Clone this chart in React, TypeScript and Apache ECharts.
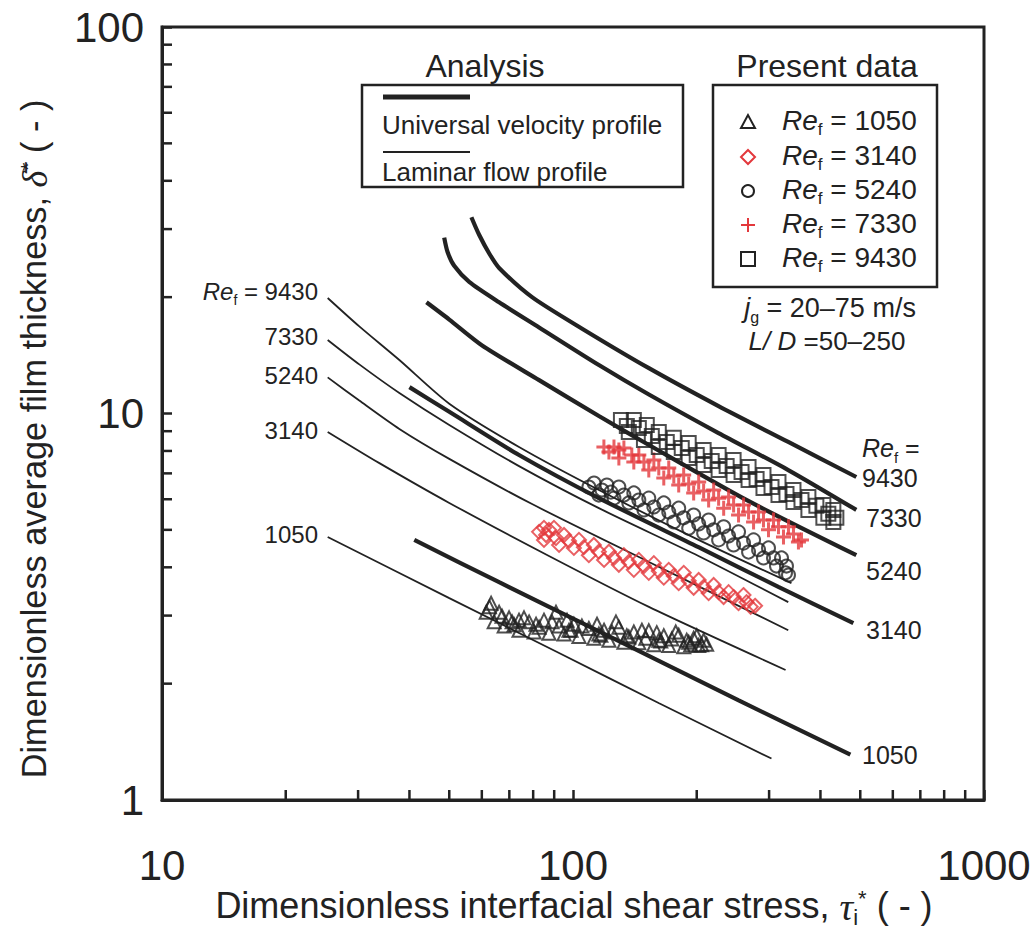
import React, { useEffect, useRef } from 'react';
import * as echarts from 'echarts';

const INK = '#222222';
const RED = '#e3383c';
const SANS = "'Liberation Sans', Arial, Helvetica, sans-serif";
const SERIF = "'Liberation Serif', 'DejaVu Serif', serif";

// axis ranges and minor ticks
const X_RANGE = [10, 1000];
const Y_RANGE = [1, 100];
const X_MINOR_TICKS = [20, 30, 40, 50, 60, 70, 80, 90, 200, 300, 400, 500, 600, 700, 800, 900];
const Y_MINOR_TICKS = [2, 3, 4, 5, 6, 7, 8, 9, 20, 30, 40, 50, 60, 70, 80, 90];

// Re_f values
const RE_VALUES = ['1050', '3140', '5240', '7330', '9430'];

// Analysis: universal velocity profile (thick lines)  [tau_i*, delta*]
const universal9430 = [[56.6, 32.2], [59.1, 29.0], [62.6, 25.9], [66.1, 23.8], [79.5, 20.0], [105, 16.6], [153, 13.1], [226, 10.45], [334, 8.44], [489, 6.85]];
const universal7330 = [[48.6, 28.5], [49.5, 26.2], [51.4, 24.1], [55.9, 21.9], [66.1, 19.4], [82.7, 16.7], [115.6, 13.35], [153, 11.2], [226, 8.9], [334, 7.14], [489, 5.63]];
const universal5240 = [[44.0, 19.4], [50, 17.5], [60.1, 15.0], [82.7, 12.2], [115.6, 9.85], [153, 8.29], [267, 5.94], [489, 4.3]];
const universal3140 = [[40, 11.7], [50, 10.1], [73.9, 7.81], [115.6, 6.04], [202, 4.51], [316, 3.56], [481, 2.87]];
const universal1050 = [[41.1, 4.71], [66.1, 3.66], [129, 2.58], [253, 1.81], [473, 1.31]];

// Analysis: laminar flow profile (thin lines)
const laminar9430 = [[25.3, 19.9], [30.2, 16.8], [37.8, 13.75], [50, 10.6], [73.9, 8.19], [115.6, 6.34], [202, 4.71], [340, 3.64]];
const laminar7330 = [[25.3, 15.5], [30.2, 13.4], [37.8, 11.3], [50, 9.34], [73.9, 7.31], [115.6, 5.69], [202, 4.28], [334, 3.25]];
const laminar5240 = [[25.3, 12.4], [30.2, 10.8], [37.8, 9.12], [50, 7.63], [79.5, 5.83], [153, 4.13], [334, 2.75]];
const laminar3140 = [[25.3, 8.96], [33.8, 7.44], [50, 5.87], [87.4, 4.28], [153, 3.16], [329, 2.17]];
const laminar1050 = [[25.3, 4.79], [50, 3.33], [92.5, 2.4], [162, 1.78], [304, 1.28]];

// Present data
const data1050 = [
  [62.6, 3.16], [66.1, 3.06], [69.9, 2.96], [73.9, 2.92], [78.2, 2.89], [85.0, 2.92], [92.5, 2.82], [100.5, 2.85], [109.3, 2.78], [119.0, 2.75], [129.3, 2.8], [140.6, 2.72], [152.9, 2.74], [166.3, 2.66], [180.8, 2.67], [196.6, 2.62], [207.9, 2.59],
  [64.3, 2.89], [68.0, 2.82], [73.9, 2.75], [80.4, 2.72], [87.4, 2.7], [95.1, 2.69], [103.4, 2.65], [112.4, 2.62], [122.3, 2.59], [133.0, 2.56], [144.6, 2.55], [157.3, 2.52], [171.0, 2.51], [186.0, 2.49], [202.2, 2.51],
  [71.9, 2.84], [82.7, 2.8], [97.8, 2.75], [115.6, 2.69], [136.7, 2.64], [161.7, 2.59], [191.2, 2.56],
  [61.5, 3.06], [63.2, 3.23], [67.2, 2.99], [71.1, 2.89], [76.0, 2.96], [81.3, 2.85], [88.9, 2.89], [90.9, 3.06], [96.7, 2.92], [98.9, 2.75], [105.1, 2.82], [114.4, 2.85], [116.9, 2.67], [124.4, 2.72], [127.2, 2.89], [135.2, 2.66], [147.1, 2.75], [150.4, 2.62], [159.9, 2.71], [163.5, 2.58], [173.9, 2.61], [177.8, 2.72], [189.1, 2.59], [193.4, 2.52], [200.0, 2.66], [205.6, 2.52], [211.4, 2.53],
];
const data3140 = [
  [82.7, 4.94], [87.4, 5.0], [95.1, 4.85], [103.4, 4.71], [112.4, 4.57], [122.3, 4.39], [133.0, 4.3], [144.6, 4.18], [157.3, 4.1], [171.0, 3.94], [186.0, 3.87], [202.2, 3.71], [219.9, 3.6], [239.1, 3.45], [259.9, 3.39],
  [85.0, 4.71], [92.5, 4.57], [100.5, 4.49], [109.3, 4.3], [119.0, 4.18], [129.3, 4.06], [140.6, 3.94], [152.9, 3.87], [166.3, 3.76], [180.8, 3.64], [196.6, 3.54], [213.8, 3.43], [232.5, 3.35], [252.8, 3.23], [270.6, 3.16],
  [86.0, 4.85], [90.9, 4.76], [97.8, 4.68], [106.3, 4.51], [115.6, 4.39], [125.8, 4.23], [136.7, 4.13], [148.8, 4.03], [161.7, 3.91], [175.9, 3.8], [191.2, 3.69], [207.9, 3.56], [226.1, 3.45], [245.9, 3.35], [264.4, 3.25], [277.3, 3.18], [85.0, 5.06], [89.9, 5.06],
];
const data5240 = [
  [112.5, 6.61], [120.9, 6.53], [129.3, 6.45], [140.6, 6.23], [152.9, 6.04], [166.3, 5.87], [180.8, 5.69], [196.6, 5.46], [213.8, 5.3], [232.6, 5.09], [252.8, 4.94], [275.0, 4.71], [299.0, 4.49], [321.6, 4.23],
  [115.6, 6.15], [125.8, 6.04], [136.7, 5.87], [148.8, 5.63], [161.7, 5.46], [175.9, 5.24], [191.2, 5.05], [207.9, 4.91], [226.1, 4.71], [245.9, 4.57], [267.4, 4.38], [290.7, 4.23], [312.7, 4.03], [328.9, 3.87],
  [109.3, 6.45], [117.6, 6.34], [123.7, 6.26], [133.0, 6.15], [144.6, 5.97], [157.3, 5.73], [171.0, 5.56], [185.9, 5.37], [202.2, 5.18], [219.9, 5.0], [239.1, 4.82], [260.0, 4.62], [282.8, 4.44], [307.5, 4.23], [330.7, 4.03], [334.4, 3.82],
];
const data7330 = [
  [118.9, 8.19], [125.8, 8.19], [133.0, 8.14], [144.6, 7.81], [157.3, 7.58], [171.0, 7.23], [185.9, 6.93], [202.2, 6.65], [219.9, 6.34], [239.1, 6.08], [260.0, 5.8], [282.8, 5.56], [307.5, 5.3], [334.4, 5.09],
  [129.3, 7.67], [140.6, 7.49], [152.9, 7.14], [166.3, 6.81], [180.8, 6.53], [196.6, 6.23], [213.8, 5.97], [232.6, 5.69], [252.8, 5.46], [275.0, 5.24], [299.0, 5.0], [325.2, 4.79], [353.6, 4.65],
  [122.3, 7.95], [129.3, 8.04], [139.0, 7.81], [148.8, 7.49], [161.7, 7.23], [175.9, 6.89], [191.2, 6.57], [207.9, 6.3], [226.1, 6.04], [245.9, 5.8], [267.4, 5.56], [290.7, 5.3], [316.2, 5.09], [343.9, 4.88], [359.7, 4.71],
];
const data9430 = [
  [130.8, 9.62], [140.6, 9.62], [151.2, 9.34], [161.7, 8.96], [175.9, 8.65], [191.2, 8.39], [207.9, 8.04], [226.1, 7.81], [245.9, 7.58], [267.4, 7.27], [290.7, 6.93], [316.2, 6.65], [343.9, 6.34], [373.9, 6.08], [406.6, 5.8], [430.0, 5.63],
  [136.7, 8.96], [148.8, 8.54], [161.7, 8.19], [175.9, 7.95], [191.2, 7.67], [207.9, 7.36], [226.1, 7.14], [245.9, 6.93], [267.4, 6.73], [290.7, 6.42], [316.2, 6.15], [343.9, 5.9], [373.9, 5.63], [406.6, 5.37], [430.0, 5.24],
  [135.2, 9.28], [144.6, 9.17], [155.5, 8.74], [169.1, 8.44], [183.9, 8.14], [200.0, 7.81], [217.5, 7.54], [236.5, 7.31], [257.1, 7.06], [279.7, 6.77], [304.1, 6.45], [330.7, 6.19], [359.7, 5.97], [391.0, 5.77], [418.1, 5.5], [437.3, 5.37],
];

function richSet(size: number) {
  const lh = Math.round(size * 1.15);
  return {
    it: { fontFamily: SANS, fontSize: size, fontStyle: 'italic', fill: INK, verticalAlign: 'top', lineHeight: lh },
    n: { fontFamily: SANS, fontSize: size, fill: INK, verticalAlign: 'top', lineHeight: lh },
    sub: { fontFamily: SANS, fontSize: Math.round(size * 0.6), fill: INK, verticalAlign: 'bottom', lineHeight: lh },
    sup: { fontFamily: SANS, fontSize: Math.round(size * 0.62), fill: INK, verticalAlign: 'top', lineHeight: lh },
    gr: { fontFamily: SERIF, fontSize: Math.round(size * 1.05), fontStyle: 'italic', fill: INK, verticalAlign: 'top', lineHeight: lh },
  };
}

function reText(x: number, y: number, value: string, size: number, align: string, withRe = true) {
  return {
    type: 'text',
    x,
    y,
    silent: true,
    style: {
      text: withRe ? `{it|Re}{sub|f}{n| = ${value}}` : `{n|${value}}`,
      rich: richSet(size),
      align,
      verticalAlign: 'middle',
      fill: INK,
    },
  };
}

function lineSeries(data: number[][], width: number) {
  return {
    type: 'line',
    data,
    symbol: 'none',
    showSymbol: false,
    smooth: 0.25,
    lineStyle: { color: INK, width },
    silent: true,
    z: 3,
  };
}

function scatterSeries(data: number[][], symbol: string, size: number, color: string, filled = false) {
  return {
    type: 'scatter',
    data,
    symbol,
    symbolSize: size,
    silent: true,
    z: 4,
    itemStyle: filled
      ? { color, borderWidth: 0 }
      : { color: 'rgba(255,255,255,0)', borderColor: color, borderWidth: 2 },
  };
}

const PLUS = 'path://M4,0H6V4H10V6H6V10H4V6H0V4H4Z';

export default function App() {
  const ref = useRef<HTMLDivElement>(null);
  useEffect(() => {
    if (!ref.current) return;
    const chart = echarts.init(ref.current, undefined, { renderer: 'svg' });
    const rightLabels = [
      { v: '9430', y: 480, x: 862 },
      { v: '7330', y: 520, x: 866 },
      { v: '5240', y: 573, x: 866 },
      { v: '3140', y: 632, x: 866 },
      { v: '1050', y: 757, x: 862 },
    ];
    const leftLabels = [
      { v: '7330', y: 338 },
      { v: '5240', y: 377 },
      { v: '3140', y: 432 },
      { v: '1050', y: 536 },
    ];
    const legendRows = [
      { v: RE_VALUES[0], y: 122 },
      { v: RE_VALUES[1], y: 157 },
      { v: RE_VALUES[2], y: 191 },
      { v: RE_VALUES[3], y: 225 },
      { v: RE_VALUES[4], y: 259 },
    ];
    const mx = 748;
    chart.setOption({
      animation: false,
      backgroundColor: '#ffffff',
      grid: {
        left: 162,
        top: 27,
        right: 52,
        bottom: 137,
        show: true,
        borderColor: INK,
        borderWidth: 3,
        backgroundColor: 'rgba(0,0,0,0)',
      },
      xAxis: {
        type: 'log',
        logBase: 10,
        min: X_RANGE[0],
        max: X_RANGE[1],
        axisLine: { show: true, lineStyle: { color: INK, width: 3 } },
        axisTick: { show: true, inside: true, length: 10, lineStyle: { color: INK, width: 2.5 } },
        axisLabel: {
          margin: 44,
          fontSize: 42,
          fontFamily: SANS,
          color: INK,
          formatter: (v: number) => String(Math.round(v)),
        },
        splitLine: { show: false },
      },
      yAxis: {
        type: 'log',
        logBase: 10,
        min: Y_RANGE[0],
        max: Y_RANGE[1],
        axisLine: { show: true, lineStyle: { color: INK, width: 3 } },
        axisTick: { show: true, inside: true, length: 10, lineStyle: { color: INK, width: 2.5 } },
        axisLabel: {
          margin: 18,
          fontSize: 42,
          fontFamily: SANS,
          color: INK,
          formatter: (v: number) => String(Math.round(v)),
        },
        splitLine: { show: false },
      },
      series: [
        {
          type: 'custom',
          silent: true,
          clip: false,
          z: 5,
          data: X_MINOR_TICKS.map((v) => [v, Y_RANGE[0]]),
          renderItem: (_p: any, api: any) => {
            const pt = api.coord([api.value(0), api.value(1)]);
            return { type: 'line', shape: { x1: pt[0], y1: pt[1], x2: pt[0], y2: pt[1] - 10 }, style: { stroke: INK, lineWidth: 2.5 } };
          },
        },
        {
          type: 'custom',
          silent: true,
          clip: false,
          z: 5,
          data: Y_MINOR_TICKS.map((v) => [X_RANGE[0], v]),
          renderItem: (_p: any, api: any) => {
            const pt = api.coord([api.value(0), api.value(1)]);
            return { type: 'line', shape: { x1: pt[0], y1: pt[1], x2: pt[0] + 10, y2: pt[1] }, style: { stroke: INK, lineWidth: 2.5 } };
          },
        },
        scatterSeries(data1050, 'triangle', 13, INK),
        scatterSeries(data3140, 'diamond', 14, RED),
        scatterSeries(data5240, 'circle', 13, INK),
        scatterSeries(data7330, PLUS, 15, RED, true),
        scatterSeries(data9430, 'rect', 14, INK),
        lineSeries(laminar9430, 1.8),
        lineSeries(laminar7330, 1.8),
        lineSeries(laminar5240, 1.8),
        lineSeries(laminar3140, 1.8),
        lineSeries(laminar1050, 1.8),
        lineSeries(universal9430, 4.2),
        lineSeries(universal7330, 4.2),
        lineSeries(universal5240, 4.2),
        lineSeries(universal3140, 4.2),
        lineSeries(universal1050, 4.2),
      ],
      graphic: [
        // Analysis legend
        { type: 'text', x: 485, y: 66, silent: true, style: { text: 'Analysis', fontSize: 32, fontFamily: SANS, fill: INK, align: 'center', verticalAlign: 'middle' } },
        { type: 'rect', silent: true, shape: { x: 362, y: 85, width: 321, height: 102 }, style: { fill: 'none', stroke: INK, lineWidth: 2.5 } },
        { type: 'line', silent: true, shape: { x1: 383, y1: 97, x2: 470, y2: 97 }, style: { stroke: INK, lineWidth: 5 } },
        { type: 'text', x: 382, y: 125, silent: true, style: { text: 'Universal velocity profile', fontSize: 26, fontFamily: SANS, fill: INK, align: 'left', verticalAlign: 'middle' } },
        { type: 'line', silent: true, shape: { x1: 383, y1: 152, x2: 470, y2: 152 }, style: { stroke: INK, lineWidth: 1.8 } },
        { type: 'text', x: 382, y: 172, silent: true, style: { text: 'Laminar flow profile', fontSize: 26, fontFamily: SANS, fill: INK, align: 'left', verticalAlign: 'middle' } },
        // Present data legend
        { type: 'text', x: 827, y: 66, silent: true, style: { text: 'Present data', fontSize: 32, fontFamily: SANS, fill: INK, align: 'center', verticalAlign: 'middle' } },
        { type: 'rect', silent: true, shape: { x: 713, y: 85, width: 224, height: 202 }, style: { fill: 'none', stroke: INK, lineWidth: 2.5 } },
        { type: 'polygon', silent: true, shape: { points: [[mx, legendRows[0].y - 7], [mx - 7, legendRows[0].y + 6], [mx + 7, legendRows[0].y + 6]] }, style: { fill: 'none', stroke: INK, lineWidth: 2 } },
        { type: 'polygon', silent: true, shape: { points: [[mx, legendRows[1].y - 7], [mx + 7, legendRows[1].y], [mx, legendRows[1].y + 7], [mx - 7, legendRows[1].y]] }, style: { fill: 'none', stroke: RED, lineWidth: 2 } },
        { type: 'circle', silent: true, shape: { cx: mx, cy: legendRows[2].y, r: 6 }, style: { fill: 'none', stroke: INK, lineWidth: 2 } },
        { type: 'line', silent: true, shape: { x1: mx - 7, y1: legendRows[3].y, x2: mx + 7, y2: legendRows[3].y }, style: { stroke: RED, lineWidth: 2 } },
        { type: 'line', silent: true, shape: { x1: mx, y1: legendRows[3].y - 7, x2: mx, y2: legendRows[3].y + 7 }, style: { stroke: RED, lineWidth: 2 } },
        { type: 'rect', silent: true, shape: { x: mx - 7, y: legendRows[4].y - 7, width: 14, height: 14 }, style: { fill: 'none', stroke: INK, lineWidth: 2 } },
        ...legendRows.map((r) => reText(782, r.y, r.v, 28, 'left')),
        {
          type: 'text', x: 830, y: 310, silent: true,
          style: { text: '{it|j}{sub|g}{n| = 20–75 m/s}', rich: richSet(27), align: 'center', verticalAlign: 'middle', fill: INK },
        },
        {
          type: 'text', x: 827, y: 343, silent: true,
          style: { text: '{it|L/ D}{n| =50–250}', rich: richSet(26), align: 'center', verticalAlign: 'middle', fill: INK },
        },
        // curve labels (left)
        reText(318, 293, RE_VALUES[4], 24, 'right'),
        ...leftLabels.map((l) => reText(318, l.y, l.v, 24, 'right', false)),
        // curve labels (right)
        {
          type: 'text', x: 862, y: 450, silent: true,
          style: { text: '{it|Re}{sub|f}{n| =}', rich: richSet(25), align: 'left', verticalAlign: 'middle', fill: INK },
        },
        ...rightLabels.map((l) => reText(l.x, l.y, l.v, 25, 'left', false)),
        // axis titles
        {
          type: 'text', x: 574, y: 908, silent: true,
          style: {
            text: '{n|Dimensionless interfacial shear stress, }{gr|τ}{sub|i}{sup|*}{n| ( - )}',
            rich: richSet(36),
            align: 'center',
            verticalAlign: 'middle',
            fill: INK,
          },
        },
        {
          type: 'text', x: 36, y: 439, rotation: Math.PI / 2, silent: true,
          style: {
            text: '{n|Dimensionless average film thickness, }{gr|δ̄}{sup|*}{n| ( - )}',
            rich: richSet(34.3),
            align: 'center',
            verticalAlign: 'middle',
            fill: INK,
          },
        },
      ],
    });
    return () => chart.dispose();
  }, []);
  return <div ref={ref} style={{ position: 'fixed', left: 0, top: 0, width: 1036, height: 937 }} />;
}
